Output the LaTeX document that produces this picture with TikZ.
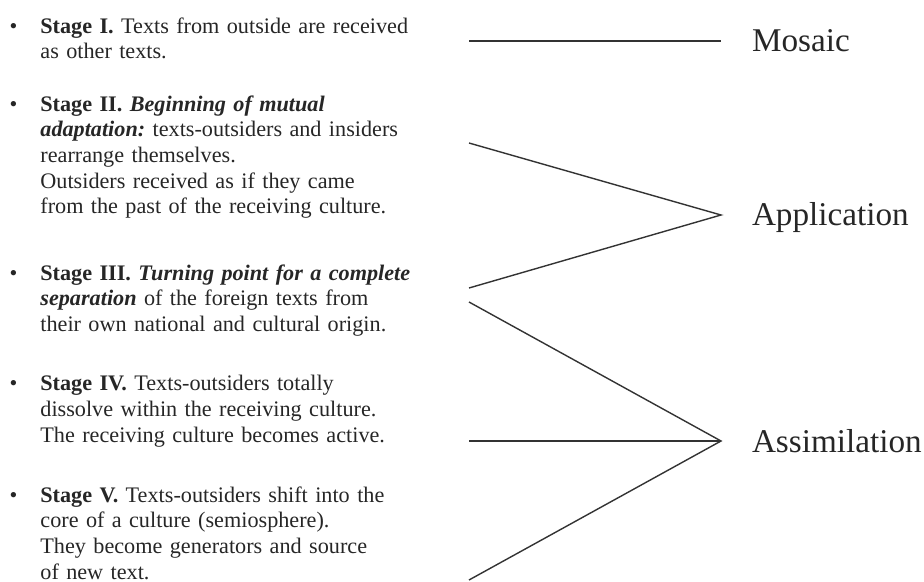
\documentclass[tikz,border=0pt]{standalone}
\usepackage{fontspec}
\setmainfont{Liberation Serif}
\newcommand{\stagebullet}{\noindent\llap{\textbullet\hspace{11.5pt}}}
\tikzset{
  stage/.style={anchor=north west, inner sep=0pt, text width=250pt, align=left,
    text=black!85, font=\fontsize{11.1}{12.85}\selectfont\frenchspacing},
  term/.style={anchor=west, inner sep=0pt, outer xsep=15.5pt,
    text height=11pt, text depth=0pt,
    text=black!85, font=\fontsize{16.6}{19}\selectfont},
  link/.style={draw=black!80, line width=0.7pt}
}
\begin{document}
\begin{tikzpicture}[x=0.5pt, y=0.5pt]
        \useasboundingbox (0,0) rectangle (924,-582);
        \node [stage] (s1) at (40,-17) {\stagebullet\textbf{Stage I.} Texts from outside are received\\
          as other texts.};
        \node [stage] (s2) at (40,-95) {\stagebullet\textbf{Stage II.} \textbf{\textit{Beginning of mutual}}\\
          \textbf{\textit{adaptation:}} texts-outsiders and insiders\\
          rearrange themselves.\\
          Outsiders received as if they came\\
          from the past of the receiving culture.};
        \node [stage] (s3) at (40,-264) {\stagebullet\textbf{Stage III.} \textbf{\textit{Turning point for a complete}}\\
          \textbf{\textit{separation}} of the foreign texts from\\
          their own national and cultural origin.};
        \node [stage] (s4) at (40,-375) {\stagebullet\textbf{Stage IV.} Texts-outsiders totally\\
          dissolve within the receiving culture.\\
          The receiving culture becomes active.};
        \node [stage] (s5) at (40,-486) {\stagebullet\textbf{Stage V.} Texts-outsiders shift into the\\
          core of a culture (semiosphere).\\
          They become generators and source\\
          of new text.};
        \node [term] (mosaic) at (721,-41) {Mosaic};
        \node [term] (application) at (721,-215) {Application};
        \node [term] (assimilation) at (721,-441) {Assimilation};
        \coordinate (m1) at (469,-41);
        \coordinate (p1) at (469,-143);
        \coordinate (p2) at (469,-288);
        \coordinate (a1) at (469,-302);
        \coordinate (a2) at (469,-441);
        \coordinate (a3) at (469,-580);
        \draw [link] (m1) -- (mosaic.west);
        \draw [link] (p1) -- (application.west) -- (p2);
        \draw [link] (a1) -- (assimilation.west) -- (a3);
        \draw [link] (a2) -- (assimilation.west);
\end{tikzpicture}
\end{document}
